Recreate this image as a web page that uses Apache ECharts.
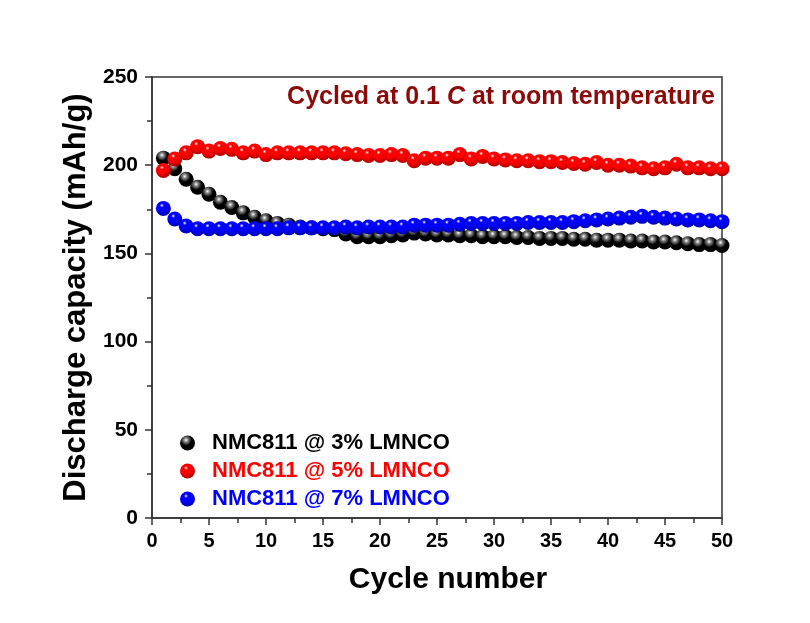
<!DOCTYPE html>
<html>
<head>
<meta charset="utf-8">
<script src="https://cdn.jsdelivr.net/npm/echarts@6/dist/echarts.min.js"></script>
<style>
  html, body { margin: 0; padding: 0; background: #fff; }
  #chart { width: 810px; height: 623px; }
</style>
</head>
<body>
<div id="chart"></div>
<script>
const cycles = Array.from({ length: 50 }, (_, i) => i + 1);

const nmc3 = [204, 198, 192, 187.5, 183.5, 179, 176, 173, 170.5, 168.5,
  167, 166, 165, 164.5, 164, 163.5, 161, 159.5, 159.5, 159.5,
  160, 160.5, 161.5, 161, 160.5, 160.5, 160, 160, 159.5, 159.5,
  159.5, 159, 159, 158.5, 158.5, 158.5, 158, 158, 157.5, 157.5,
  157.5, 157, 157, 156.5, 156.5, 156, 155.5, 155, 155, 154.5];

const nmc5 = [197, 203.5, 207, 210.5, 208, 209.5, 209, 207, 208, 206,
  207, 207, 207, 207, 207, 207, 206.5, 206, 205.5, 205.5,
  206, 205.5, 202.5, 204, 204, 204, 206, 203.5, 205, 203.5,
  203, 202.5, 202.5, 202, 202, 201.5, 201, 200.5, 201.5, 200,
  200, 199.5, 198.5, 198, 198.5, 200.5, 198.5, 198.5, 198, 198];

const nmc7 = [175.5, 169.5, 165.5, 164, 164, 164, 164, 164, 164, 164,
  164, 164.5, 164.5, 164.5, 164.5, 164.5, 165, 164.5, 165, 165,
  165, 165, 166, 166, 166, 166, 166.5, 167, 167, 167,
  167, 167, 167.5, 167.5, 167.5, 167.5, 168, 168.5, 169, 169.5,
  170, 170.5, 171, 170.5, 170, 169.5, 169, 169, 168.5, 168];

const seriesNames = ['NMC811 @ 3% LMNCO', 'NMC811 @ 5% LMNCO', 'NMC811 @ 7% LMNCO'];
const seriesColors = ['#000000', '#ff0000', '#0000ff'];
const seriesDark = ['#000000', '#a00000', '#0000a0'];

const font = 'Liberation Sans, Arial, sans-serif';

function ball(base, dark) {
  return {
    type: 'radial', x: 0.4, y: 0.3, r: 0.75,
    colorStops: [
      { offset: 0, color: '#ffffff' },
      { offset: 0.18, color: base === '#000000' ? '#888888' : base },
      { offset: 0.5, color: base },
      { offset: 1, color: dark }
    ]
  };
}

const chart = echarts.init(document.getElementById('chart'));

const dataSets = [nmc3, nmc5, nmc7];

const option = {
  backgroundColor: '#ffffff',
  animation: false,
  title: {
    text: '{a|Cycled at 0.1 }{b|C}{a| at room temperature}',
    right: 90,
    top: 80,
    textStyle: {
      rich: {
        a: { fontFamily: font, fontWeight: 'bold', fontSize: 25, color: '#8b0a0a' },
        b: { fontFamily: font, fontWeight: 'bold', fontStyle: 'italic', fontSize: 25, color: '#8b0a0a' }
      }
    }
  },
  legend: {
    orient: 'vertical',
    left: 175,
    top: 427,
    itemGap: 6,
    itemWidth: 15,
    itemHeight: 15,
    icon: 'circle',
    textStyle: { fontFamily: font, fontWeight: 'bold', fontSize: 22, padding: [0, 0, 0, 12] },
    data: seriesNames.map((n, i) => ({ name: n, textStyle: { color: seriesColors[i] } }))
  },
  grid: {
    left: 152, right: 88, top: 77, bottom: 105,
    show: true, borderColor: '#333', borderWidth: 1.5, backgroundColor: 'transparent'
  },
  xAxis: {
    type: 'value',
    min: 0, max: 50, interval: 5,
    name: 'Cycle number',
    nameLocation: 'middle',
    nameGap: 47,
    nameTextStyle: { fontFamily: font, fontWeight: 'bold', fontSize: 30, color: '#000', padding: [0, 0, 0, 22] },
    axisLine: { lineStyle: { color: '#333', width: 1.5 } },
    axisTick: { inside: false, length: 7, lineStyle: { color: '#333', width: 1.5 } },
    minorTick: { show: true, splitNumber: 2, length: 5, lineStyle: { color: '#333', width: 1.5 } },
    splitLine: { show: false },
    axisLabel: { fontFamily: font, fontWeight: 'bold', fontSize: 20, color: '#000', margin: 13 }
  },
  yAxis: {
    type: 'value',
    min: 0, max: 250, interval: 50,
    name: 'Discharge capacity (mAh/g)',
    nameLocation: 'middle',
    nameGap: 59,
    nameTextStyle: { fontFamily: font, fontWeight: 'bold', fontSize: 31, color: '#000' },
    axisLine: { lineStyle: { color: '#333', width: 1.5 } },
    axisTick: { inside: false, length: 7, lineStyle: { color: '#333', width: 1.5 } },
    minorTick: { show: true, splitNumber: 2, length: 5, lineStyle: { color: '#333', width: 1.5 } },
    splitLine: { show: false },
    axisLabel: { fontFamily: font, fontWeight: 'bold', fontSize: 21, color: '#000', margin: 14 }
  },
  series: dataSets.map((d, i) => ({
    name: seriesNames[i],
    type: 'scatter',
    symbol: 'circle',
    symbolSize: 15,
    z: 2 + i,
    itemStyle: { color: ball(seriesColors[i], seriesDark[i]), opacity: 1 },
    data: cycles.map((c, k) => [c, d[k]])
  }))
};

chart.setOption(option);
</script>
</body>
</html>
